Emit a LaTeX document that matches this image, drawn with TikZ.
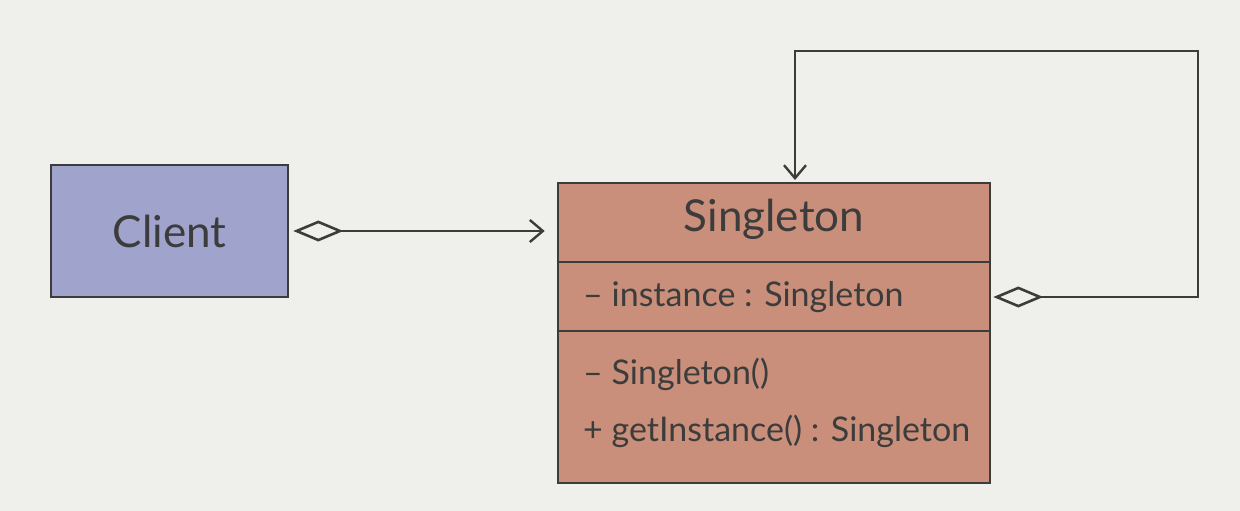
\documentclass[tikz,border=0pt]{standalone}
\usepackage{fontspec}
\setmainfont{Lato}
\usetikzlibrary{arrows.meta,calc}
\definecolor{bg}{HTML}{EFEFEB}
\definecolor{ink}{HTML}{3C3C3C}
\definecolor{clientfill}{HTML}{A0A3CB}
\definecolor{singfill}{HTML}{C98F7A}
\tikzset{
  classbox/.style={draw=ink, line width=2.6pt, inner sep=0pt},
  member/.style={anchor=base west, inner sep=0pt, text=ink, font=\fontsize{34}{38}\selectfont},
  link/.style={draw=ink, line width=2.4pt},
  agg/.style={link, {Diamond[open,length=50pt,width=21pt,line width=2.6pt]}-{Straight Barb[length=13pt,width=22pt,line width=2.4pt]}},
}
\begin{document}
\begin{tikzpicture}[x=1pt,y=-1pt]
\fill[bg] (0,0) rectangle (1240,511);
\useasboundingbox (0,0) rectangle (1240,511);
% Client
\node[classbox, fill=clientfill, minimum width=237pt, minimum height=132pt,
      text=ink, font=\fontsize{44}{48}\selectfont] (client) at (169.5,231) {Client};
% Singleton
\node[classbox, fill=singfill, minimum width=432pt, minimum height=300pt] (singleton) at (774,333) {};
\node[text=ink, font=\fontsize{44}{48}\selectfont, inner sep=0pt] (title) at (774,219) {Singleton};
\coordinate (d1) at ($(singleton.north west)+(0,80)$);
\coordinate (d2) at ($(singleton.north west)+(0,149)$);
\draw[ink, line width=2.4pt] (d1) -- (d1 -| singleton.east);
\draw[ink, line width=2.4pt] (d2) -- (d2 -| singleton.east);
\node[member] (attr) at (583,306) {– instance : Singleton};
\node[member] (ctor) at (583,384) {– Singleton()};
\node[member] (getinst) at (583,441) {+ getInstance() : Singleton};
% Client -> Singleton
\draw[agg, shorten <=4pt, shorten >=12pt] (client.east) -- (client.east -| singleton.west);
% self association
\coordinate (selfstart) at ($(singleton.east)+(0,-36)$);
\coordinate (r1) at (1198,297);
\coordinate (r2) at (1198,51);
\coordinate (r3) at (795,51);
\coordinate (r4) at (795,183);
\draw[agg, shorten <=2pt, shorten >=3pt] (selfstart) -- (r1) -- (r2) -- (r3) -- (r4);
\end{tikzpicture}
\end{document}
